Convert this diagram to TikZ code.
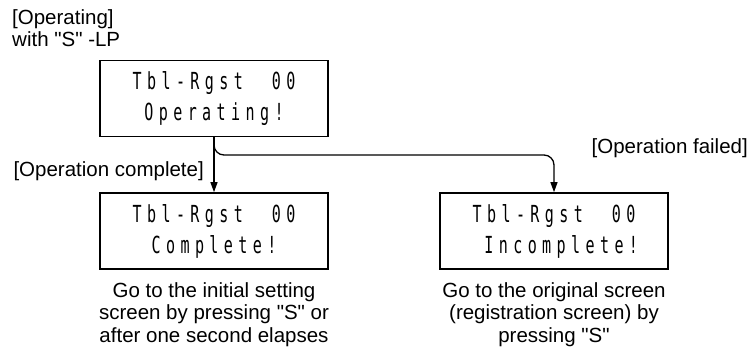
\documentclass[tikz,border=0pt]{standalone}
\usepackage{fontspec}
% straight quotation marks: no TeX ligature mapping
\setmainfont{Liberation Sans}[Ligatures=TeXOff]
\newfontfamily\lcdfont[FakeStretch=0.64,LetterSpace=23]{DejaVu Sans Mono}
\usetikzlibrary{arrows.meta}
\begin{document}
\begin{tikzpicture}[x=1pt,y=-1pt,
  screen/.style={draw,line width=1.6pt,minimum width=228pt,minimum height=76pt,
    inner sep=0pt,align=center,font=\lcdfont\fontsize{23.5}{31}\selectfont},
  note/.style={inner sep=0pt,font=\fontsize{20.5}{22.5}\selectfont},
  flow/.style={line width=1.3pt,-{Triangle[length=10pt,width=7pt]}}]
\useasboundingbox (0,0) rectangle (755,347);

% display screens
\node[screen] (op)   at (214,98.5) {Tbl-Rgst\ \ 00\\Operating!};
\node[screen] (done) at (214,231)  {Tbl-Rgst\ \ 00\\Complete!};
\node[screen] (fail) at (554,231)  {Tbl-Rgst\ \ 00\\\ Incomplete!};

% transitions
\coordinate (split) at (380,155);
\draw[flow] (op.south) -- (done.north);
\draw[flow,rounded corners=10pt] (op.south) |- (split) -| (fail.north);

% labels (base anchor = baseline of the last line)
\node[note,anchor=base west,align=left] (start) at (12,47) {[Operating]\\with "S" -LP};
\node[note,anchor=base east] (okl) at (204,177) {[Operation complete]};
\node[note,anchor=base east] (ngl) at (748,154) {[Operation failed]};

% captions
\node[note,anchor=base,align=center] (okc) at (214,342)
  {Go to the initial setting\\screen by pressing "S" or\\after one second elapses};
\node[note,anchor=base,align=center] (ngc) at (554,342)
  {Go to the original screen\\(registration screen) by\\pressing "S"};
\end{tikzpicture}
\end{document}
